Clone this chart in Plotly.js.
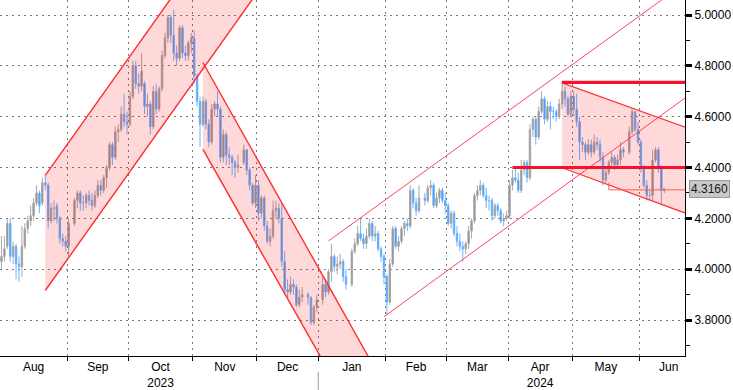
<!DOCTYPE html>
<html>
<head>
<meta charset="utf-8">
<script src="https://cdn.plot.ly/plotly-3.0.1.min.js"></script>
<style>html,body{margin:0;padding:0;background:#fff;}#chart{width:733px;height:390px;}</style>
</head>
<body>
<div id="chart"></div>
<script>
// ---- trading days (weekdays with a print) ----
const dates = [
'2023-08-01','2023-08-02','2023-08-03','2023-08-04','2023-08-07','2023-08-08','2023-08-09','2023-08-10','2023-08-11','2023-08-14','2023-08-15','2023-08-16','2023-08-17','2023-08-18','2023-08-21','2023-08-22','2023-08-23','2023-08-24','2023-08-25','2023-08-28','2023-08-29','2023-08-30','2023-08-31',
'2023-09-01','2023-09-05','2023-09-06','2023-09-07','2023-09-08','2023-09-11','2023-09-12','2023-09-13','2023-09-14','2023-09-15','2023-09-18','2023-09-19','2023-09-20','2023-09-21','2023-09-22','2023-09-25','2023-09-26','2023-09-27','2023-09-28','2023-09-29',
'2023-10-02','2023-10-03','2023-10-04','2023-10-05','2023-10-06','2023-10-09','2023-10-10','2023-10-11','2023-10-12','2023-10-13','2023-10-16','2023-10-17','2023-10-18','2023-10-19','2023-10-20','2023-10-23','2023-10-24','2023-10-25','2023-10-26','2023-10-27','2023-10-30','2023-10-31',
'2023-11-01','2023-11-02','2023-11-03','2023-11-06','2023-11-07','2023-11-08','2023-11-09','2023-11-10','2023-11-13','2023-11-14','2023-11-15','2023-11-16','2023-11-17','2023-11-20','2023-11-21','2023-11-22','2023-11-24','2023-11-27','2023-11-28','2023-11-29','2023-11-30',
'2023-12-01','2023-12-04','2023-12-05','2023-12-06','2023-12-07','2023-12-08','2023-12-11','2023-12-12','2023-12-13','2023-12-14','2023-12-15','2023-12-18','2023-12-19','2023-12-20','2023-12-21','2023-12-22','2023-12-26','2023-12-27','2023-12-28','2023-12-29',
'2024-01-02','2024-01-03','2024-01-04','2024-01-05','2024-01-08','2024-01-09','2024-01-10','2024-01-11','2024-01-12','2024-01-16','2024-01-17','2024-01-18','2024-01-19','2024-01-22','2024-01-23','2024-01-24','2024-01-25','2024-01-26','2024-01-29','2024-01-30','2024-01-31',
'2024-02-01','2024-02-02','2024-02-05','2024-02-06','2024-02-07','2024-02-08','2024-02-09','2024-02-12','2024-02-13','2024-02-14','2024-02-15','2024-02-16','2024-02-20','2024-02-21','2024-02-22','2024-02-23','2024-02-26','2024-02-27','2024-02-28','2024-02-29',
'2024-03-01','2024-03-04','2024-03-05','2024-03-06','2024-03-07','2024-03-08','2024-03-11','2024-03-12','2024-03-13','2024-03-14','2024-03-15','2024-03-18','2024-03-19','2024-03-20','2024-03-21','2024-03-22','2024-03-25','2024-03-26','2024-03-27','2024-03-28','2024-03-29',
'2024-04-01','2024-04-02','2024-04-03','2024-04-04','2024-04-05','2024-04-08','2024-04-09','2024-04-10','2024-04-11','2024-04-12','2024-04-15','2024-04-16','2024-04-17','2024-04-18','2024-04-19','2024-04-22','2024-04-23','2024-04-24','2024-04-25','2024-04-26','2024-04-29','2024-04-30',
'2024-05-01','2024-05-02','2024-05-03','2024-05-06','2024-05-07','2024-05-08','2024-05-09','2024-05-10','2024-05-13','2024-05-14','2024-05-15','2024-05-16','2024-05-17','2024-05-20','2024-05-21','2024-05-22','2024-05-23','2024-05-24','2024-05-28','2024-05-29','2024-05-30','2024-05-31',
'2024-06-03','2024-06-04','2024-06-05','2024-06-06','2024-06-07','2024-06-10','2024-06-11','2024-06-12','2024-06-13'
];
const open = [
4.03,4.05,4.09,4.18,4.05,4.09,4.02,4.01,4.09,4.16,4.19,4.21,4.26,4.30,4.26,4.34,4.33,4.19,4.24,4.25,4.20,4.12,4.11,
4.09,4.18,4.27,4.30,4.26,4.26,4.29,4.27,4.25,4.29,4.33,4.31,4.36,4.40,4.49,4.44,4.54,4.55,4.61,4.58,
4.57,4.68,4.80,4.73,4.72,4.73,4.64,4.65,4.56,4.70,4.63,4.71,4.84,4.91,4.99,4.92,4.85,4.83,4.95,4.85,4.84,4.89,
4.91,4.76,4.66,4.57,4.66,4.57,4.50,4.63,4.65,4.63,4.44,4.53,4.45,4.44,4.42,4.40,4.42,4.47,4.39,4.33,4.26,
4.33,4.22,4.28,4.17,4.11,4.13,4.23,4.24,4.20,4.03,3.92,3.91,3.94,3.93,3.86,3.89,3.90,3.89,3.79,3.85,
3.88,3.94,3.91,3.99,4.05,4.01,4.02,4.03,3.97,3.94,4.07,4.10,4.14,4.12,4.10,4.13,4.18,4.13,4.14,4.08,4.05,
3.97,3.87,4.02,4.16,4.09,4.11,4.16,4.18,4.17,4.31,4.26,4.23,4.28,4.27,4.32,4.33,4.25,4.28,4.31,4.27,
4.25,4.18,4.22,4.14,4.11,4.09,4.08,4.10,4.15,4.19,4.29,4.31,4.33,4.29,4.27,4.27,4.21,4.25,4.23,4.19,4.20,
4.21,4.33,4.36,4.35,4.31,4.39,4.42,4.36,4.55,4.59,4.52,4.62,4.67,4.59,4.64,4.62,4.62,4.60,4.65,4.70,4.67,4.61,
4.68,4.63,4.58,4.50,4.49,4.46,4.49,4.46,4.50,4.49,4.44,4.35,4.38,4.42,4.44,4.41,4.43,4.47,4.46,4.54,4.62,4.55,
4.50,4.40,4.33,4.29,4.29,4.43,4.47,4.40,4.31
];
const high = [
4.13,4.13,4.20,4.20,4.11,4.10,4.05,4.17,4.18,4.21,4.25,4.28,4.33,4.31,4.36,4.37,4.34,4.26,4.27,4.26,4.21,4.14,4.13,
4.20,4.28,4.31,4.31,4.29,4.30,4.31,4.30,4.31,4.35,4.35,4.37,4.41,4.50,4.50,4.56,4.57,4.64,4.69,4.62,
4.70,4.82,4.82,4.77,4.85,4.74,4.69,4.66,4.72,4.73,4.72,4.86,4.93,5.00,5.00,5.02,4.88,4.96,4.96,4.88,4.90,4.93,
4.94,4.77,4.68,4.68,4.67,4.59,4.65,4.66,4.70,4.64,4.55,4.54,4.48,4.45,4.43,4.45,4.49,4.47,4.40,4.34,4.37,
4.35,4.29,4.29,4.19,4.16,4.27,4.27,4.26,4.26,4.07,3.96,3.97,3.96,3.94,3.92,3.93,3.91,3.89,3.86,3.90,
3.97,3.96,4.00,4.10,4.06,4.05,4.06,4.04,4.00,4.08,4.12,4.17,4.20,4.14,4.16,4.20,4.19,4.17,4.15,4.09,4.06,
3.98,4.04,4.17,4.17,4.13,4.17,4.19,4.20,4.33,4.32,4.28,4.33,4.30,4.33,4.35,4.34,4.30,4.32,4.32,4.30,
4.26,4.23,4.23,4.17,4.14,4.11,4.11,4.17,4.20,4.30,4.33,4.35,4.34,4.32,4.29,4.28,4.26,4.26,4.24,4.22,4.23,
4.35,4.39,4.40,4.38,4.43,4.43,4.43,4.57,4.60,4.60,4.64,4.70,4.68,4.66,4.66,4.64,4.63,4.67,4.74,4.72,4.68,4.70,
4.70,4.69,4.60,4.52,4.50,4.51,4.51,4.53,4.52,4.51,4.46,4.40,4.43,4.46,4.45,4.45,4.50,4.48,4.56,4.63,4.62,4.58,
4.51,4.41,4.35,4.31,4.47,4.48,4.48,4.41,4.32
];
const low = [
4.00,4.03,4.08,4.03,4.02,3.96,3.95,3.97,4.08,4.14,4.17,4.19,4.25,4.22,4.25,4.31,4.16,4.18,4.19,4.18,4.10,4.09,4.07,
4.05,4.17,4.24,4.23,4.23,4.24,4.25,4.23,4.24,4.28,4.29,4.30,4.32,4.39,4.41,4.43,4.50,4.54,4.56,4.53,
4.56,4.67,4.71,4.69,4.70,4.61,4.60,4.53,4.55,4.61,4.62,4.70,4.83,4.89,4.89,4.82,4.80,4.82,4.83,4.82,4.82,4.85,
4.73,4.64,4.48,4.56,4.55,4.48,4.49,4.60,4.60,4.42,4.42,4.41,4.41,4.37,4.36,4.38,4.41,4.37,4.31,4.25,4.24,
4.19,4.20,4.15,4.10,4.09,4.12,4.20,4.18,4.01,3.90,3.89,3.90,3.90,3.85,3.85,3.87,3.86,3.78,3.78,3.83,
3.86,3.89,3.90,3.95,3.99,3.98,4.00,3.95,3.92,3.93,4.06,4.09,4.11,4.08,4.08,4.12,4.11,4.11,4.07,4.03,3.94,
3.82,3.86,4.01,4.08,4.07,4.10,4.13,4.15,4.16,4.24,4.21,4.22,4.25,4.26,4.29,4.24,4.24,4.26,4.26,4.22,
4.17,4.16,4.13,4.09,4.07,4.03,4.06,4.08,4.12,4.18,4.27,4.29,4.28,4.24,4.23,4.19,4.20,4.21,4.18,4.17,4.19,
4.20,4.31,4.34,4.30,4.30,4.37,4.34,4.35,4.52,4.49,4.51,4.61,4.57,4.58,4.55,4.59,4.58,4.59,4.63,4.64,4.60,4.60,
4.60,4.56,4.43,4.46,4.43,4.45,4.44,4.45,4.47,4.42,4.33,4.34,4.37,4.40,4.39,4.40,4.41,4.44,4.45,4.53,4.54,4.49,
4.38,4.32,4.27,4.27,4.27,4.42,4.38,4.25,4.30
];
const close = [
4.05,4.08,4.18,4.05,4.09,4.02,4.01,4.09,4.16,4.19,4.21,4.26,4.30,4.25,4.34,4.33,4.19,4.24,4.24,4.20,4.12,4.11,4.09,
4.18,4.27,4.30,4.26,4.26,4.29,4.27,4.25,4.29,4.33,4.31,4.36,4.40,4.49,4.44,4.54,4.55,4.61,4.58,4.57,
4.68,4.80,4.73,4.72,4.78,4.64,4.65,4.56,4.70,4.63,4.71,4.84,4.91,4.99,4.92,4.85,4.83,4.95,4.85,4.84,4.89,4.91,
4.76,4.66,4.57,4.66,4.57,4.50,4.63,4.65,4.63,4.44,4.53,4.45,4.44,4.42,4.40,4.41,4.47,4.39,4.33,4.26,4.33,
4.22,4.28,4.17,4.11,4.13,4.23,4.24,4.20,4.03,3.92,3.91,3.94,3.93,3.86,3.89,3.90,3.89,3.79,3.85,3.88,
3.94,3.91,3.99,4.05,4.01,4.02,4.03,3.97,3.94,4.07,4.10,4.14,4.12,4.10,4.13,4.18,4.13,4.14,4.08,4.05,3.97,
3.87,4.02,4.16,4.09,4.11,4.16,4.18,4.17,4.31,4.26,4.23,4.28,4.27,4.32,4.33,4.25,4.28,4.31,4.27,4.25,
4.18,4.22,4.14,4.11,4.09,4.08,4.10,4.15,4.19,4.29,4.31,4.33,4.29,4.27,4.27,4.21,4.25,4.23,4.19,4.20,4.21,
4.33,4.36,4.35,4.31,4.39,4.42,4.36,4.55,4.59,4.52,4.62,4.67,4.59,4.64,4.62,4.62,4.60,4.65,4.70,4.67,4.61,4.68,
4.63,4.58,4.50,4.49,4.46,4.49,4.46,4.50,4.49,4.44,4.35,4.38,4.42,4.44,4.41,4.43,4.47,4.46,4.54,4.62,4.55,4.50,
4.40,4.33,4.29,4.29,4.43,4.47,4.40,4.31,4.316
];

// ---- month axis ----
const monthStarts = ['2023-08-01','2023-09-01','2023-10-01','2023-11-01','2023-12-01','2024-01-01','2024-02-01','2024-03-01','2024-04-01','2024-05-01','2024-06-01','2024-07-01'];
const monthLabels = ['Aug','Sep','Oct<br>2023','Nov','Dec','Jan','Feb','Mar','Apr<br>2024','May','Jun'];

// ---- drawn trend channels / levels: [date, yield] ----
const riseAugOctUpper = [['2023-08-22', 4.369], ['2023-12-05', 5.582]];
const riseAugOctLower = [['2023-08-22', 3.916], ['2023-12-05', 5.127]];
const fallNovDecUpper = [['2023-11-06', 4.813], ['2024-01-30', 3.567]];
const fallNovDecLower = [['2023-11-06', 4.471], ['2024-01-30', 3.236]];
const riseJanJunUpper = [['2024-01-04', 4.111], ['2024-06-28', 5.158]];
const riseJanJunLower = [['2024-01-31', 3.813], ['2024-06-28', 4.706]];
const wedgeUpper = [['2024-04-25', 4.733], ['2024-06-28', 4.543]];
const wedgeLower = [['2024-04-25', 4.399], ['2024-06-28', 4.2045]];
const levelHigh = [['2024-04-25', 4.735], ['2024-06-28', 4.735]];
const levelLow = [['2024-04-02', 4.400], ['2024-06-28', 4.400]];
const lastMarker = [['2024-05-17', 4.340], ['2024-05-17', 4.312], ['2024-06-28', 4.312]];

// weekday index counted from 2023-08-01
function bizIndex(s) {
  const d = new Date(s + 'T00:00:00Z');
  const t = new Date(Date.UTC(2023, 7, 1));
  let n = 0;
  while (t < d) { const w = t.getUTCDay(); if (w !== 0 && w !== 6) n++; t.setUTCDate(t.getUTCDate() + 1); }
  return n;
}
const xs = dates.map(bizIndex);
const mIdx = monthStarts.map(bizIndex);
const boundaries = mIdx.slice(1, -1).map(v => v - 0.5);
const labelPos = monthLabels.map((_, i) => (mIdx[i] + mIdx[i + 1]) / 2 - 0.5);

const P = p => [bizIndex(p[0]), p[1]];
function lineShape(seg, color, width) {
  const a = P(seg[0]), b = P(seg[1]);
  return {type: 'line', xref: 'x', yref: 'y', x0: a[0], y0: a[1], x1: b[0], y1: b[1], line: {color: color, width: width}, layer: 'above'};
}
function bandShape(up, lo) {
  const a = P(up[0]), b = P(up[1]), c = P(lo[1]), d = P(lo[0]);
  return {type: 'path', xref: 'x', yref: 'y', path: `M ${a[0]},${a[1]} L ${b[0]},${b[1]} L ${c[0]},${c[1]} L ${d[0]},${d[1]} Z`,
    fillcolor: 'rgba(255,0,0,0.15)', line: {width: 0}, layer: 'above'};
}
const lm = lastMarker.map(P);

const shapes = [
  bandShape(riseAugOctUpper, riseAugOctLower),
  lineShape(riseAugOctUpper, '#ff2b2b', 1.4),
  lineShape(riseAugOctLower, '#ff2b2b', 1.4),
  bandShape(fallNovDecUpper, fallNovDecLower),
  lineShape(fallNovDecUpper, '#ff2b2b', 1.4),
  lineShape(fallNovDecLower, '#ff2b2b', 1.4),
  lineShape(riseJanJunUpper, '#ff4466', 1),
  lineShape(riseJanJunLower, '#ff4466', 1),
  bandShape(wedgeUpper, wedgeLower),
  lineShape(wedgeUpper, '#ff3535', 1.2),
  lineShape(wedgeLower, '#ff3535', 1.2),
  lineShape(levelHigh, '#f5122e', 3.2),
  lineShape(levelLow, '#f5122e', 3.2),
  {type: 'path', xref: 'x', yref: 'y', path: `M ${lm[0][0]},${lm[0][1]} L ${lm[1][0]},${lm[1][1]} L ${lm[2][0]},${lm[2][1]}`,
   line: {color: '#ff5a5a', width: 1}, layer: 'above'},
  {type: 'line', xref: 'x', yref: 'paper', x0: mIdx[5] - 0.5, x1: mIdx[5] - 0.5, y0: -0.045, y1: -0.1,
   line: {color: '#9a9a9a', width: 1}}
];

const trace = {
  type: 'candlestick', x: xs, open: open, high: high, low: low, close: close,
  increasing: {line: {color: '#a8a8a8', width: 1}, fillcolor: '#8a8a8a'},
  decreasing: {line: {color: '#6cb4ff', width: 1}, fillcolor: '#3a8ae6'},
  whiskerwidth: 0, hoverinfo: 'skip', showlegend: false
};

const last = close[close.length - 1];
const font = {family: 'Liberation Sans, Arial, sans-serif', size: 12, color: '#000'};

const layout = {
  width: 733, height: 390,
  margin: {l: 0, r: 48, t: 0, b: 34, pad: 0},
  paper_bgcolor: '#fff', plot_bgcolor: '#fff',
  showlegend: false, hovermode: false, font: font,
  xaxis: {
    type: 'linear', range: [-0.5, 234.1], fixedrange: true,
    rangeslider: {visible: false},
    showgrid: false, zeroline: false, showline: true, linecolor: '#000', linewidth: 1,
    tickmode: 'array', tickvals: labelPos, ticktext: monthLabels, ticks: '',
    tickfont: font,
    minor: {tickmode: 'array', tickvals: boundaries, ticks: 'outside', ticklen: 4, tickcolor: '#000',
            showgrid: true, gridcolor: '#7a7a7a', griddash: '2px,4px', gridwidth: 1}
  },
  yaxis: {
    side: 'right', range: [3.6584, 5.059], fixedrange: true,
    tick0: 3.8, dtick: 0.2, tickformat: '.4f',
    showgrid: true, gridcolor: '#7a7a7a', griddash: '2px,4px', gridwidth: 1,
    zeroline: false, showline: true, linecolor: '#000', linewidth: 1,
    ticks: 'outside', ticklen: 6, tickwidth: 3, tickcolor: '#000',
    tickfont: font,
    minor: {tick0: 3.7, dtick: 0.1, ticks: 'outside', ticklen: 4, tickwidth: 1, tickcolor: '#000', showgrid: false}
  },
  shapes: shapes,
  annotations: [{
    xref: 'paper', yref: 'y', x: 1, y: last, xanchor: 'left', yanchor: 'middle', xshift: 4,
    text: last.toFixed(4), showarrow: false, font: {family: font.family, size: 12, color: '#1a1a1a'},
    bgcolor: '#c8c8c8', bordercolor: '#9a9a9a', borderwidth: 1, borderpad: 1
  }]
};

Plotly.newPlot('chart', [trace], layout, {displayModeBar: false, staticPlot: true});
</script>
</body>
</html>
